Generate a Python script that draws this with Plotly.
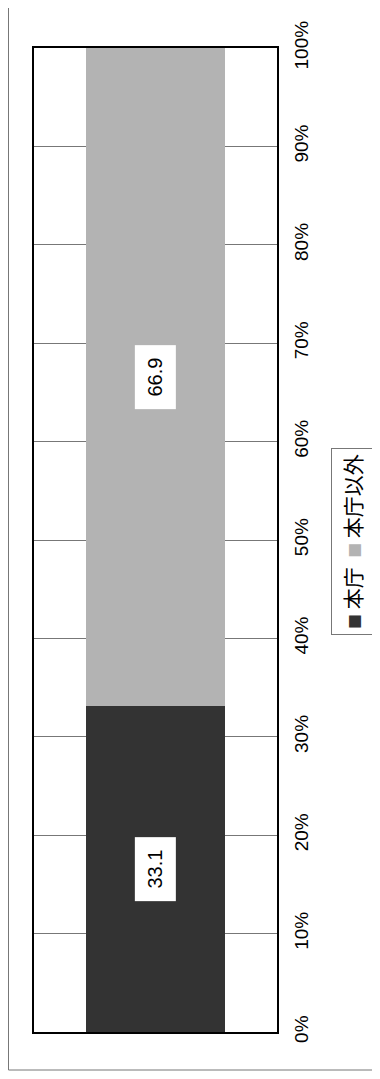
import plotly.graph_objects as go

categories = [""]
series_names = ["本庁", "本庁以外"]
series_values = [[33.1], [66.9]]
series_colors = ["#333333", "#b3b3b3"]
tick_vals = [0, 10, 20, 30, 40, 50, 60, 70, 80, 90, 100]
tick_text = ["0%", "10%", "20%", "30%", "40%", "50%", "60%", "70%", "80%", "90%", "100%"]

# figure geometry (page has 8px default body margin)
W, H = 372, 1063
ML, MT, PW, PH = 26, 40, 243, 984
MR, MB = W - ML - PW, H - MT - PH


def px_to_paper_x(px):
    return (px - ML) / PW


def px_to_paper_y(py):
    return (MT + PH - py) / PH


fig = go.Figure()
for name, vals, col in zip(series_names, series_values, series_colors):
    fig.add_trace(go.Bar(x=categories, y=vals, name=name, marker=dict(color=col, line=dict(width=0)),
                         showlegend=False, hoverinfo="skip"))

# value labels (white boxes) at segment centres
base = 0.0
for vals in series_values:
    v = vals[0]
    fig.add_annotation(x=categories[0], y=base + v / 2, xref="x", yref="y",
                       text=f"{v:.1f}", textangle=-90, showarrow=False,
                       font=dict(family="Liberation Sans, Arial", size=20, color="black"),
                       bgcolor="white", width=59, height=36, borderpad=2)
    base += v

# legend (rotated)
legend_text = "".join(
    f"<span style='color:{c};font-size:15px'>■</span> {n}" + ("  " if i == 0 else "")
    for i, (n, c) in enumerate(zip(series_names, series_colors))
)
fig.add_annotation(x=px_to_paper_x(344), y=px_to_paper_y(534), xref="paper", yref="paper",
                   text=legend_text, textangle=-90, showarrow=False,
                   font=dict(family="Noto Sans CJK JP", size=21, color="black"),
                   bgcolor="white", bordercolor="#777777", borderwidth=1, borderpad=5,
                   xanchor="center", yanchor="middle")

# outer chart border
fig.add_shape(type="rect", xref="paper", yref="paper",
              x0=px_to_paper_x(0.5), x1=px_to_paper_x(400),
              y0=px_to_paper_y(1062), y1=px_to_paper_y(-20),
              line=dict(color="#777777", width=1), fillcolor="rgba(0,0,0,0)", layer="below")

fig.update_layout(
    width=W, height=H,
    margin=dict(l=ML, r=MR, t=MT, b=MB),
    paper_bgcolor="white", plot_bgcolor="white",
    barmode="stack", bargap=0.428,
    xaxis=dict(type="category", range=[-0.5, 0.5], showticklabels=False, showgrid=False,
               showline=True, linecolor="black", linewidth=2, mirror=True, zeroline=False, ticks=""),
    yaxis=dict(range=[0, 100], tickmode="array", tickvals=tick_vals, ticktext=tick_text,
               side="right", tickangle=-90,
               showgrid=True, gridcolor="#777777", gridwidth=1, zeroline=False,
               showline=True, linecolor="black", linewidth=2, mirror=True, ticks="",
               ticklabelstandoff=6,
               tickfont=dict(family="Liberation Sans, Arial", size=19, color="black")),
)

fig.write_html("out.html")
